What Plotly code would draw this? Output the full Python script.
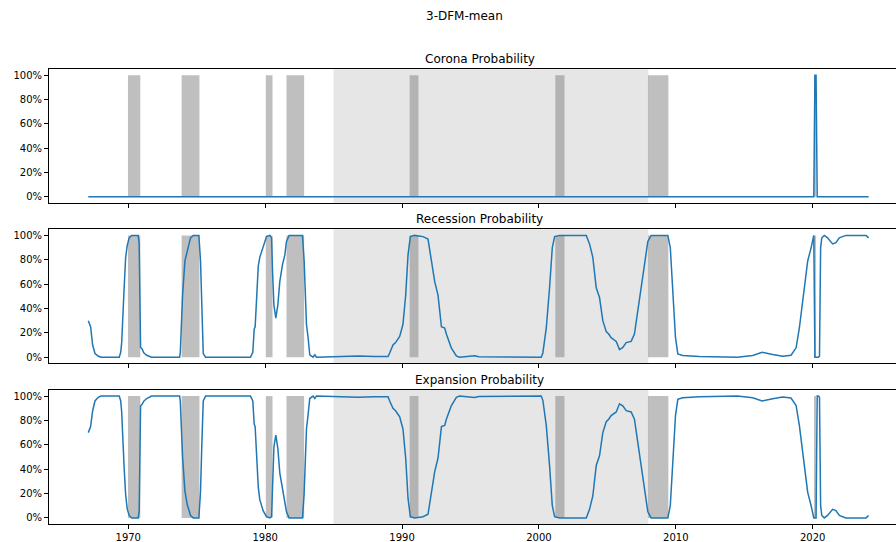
import plotly.graph_objects as go

# ---------------- data (decimal years) ----------------
dates = [
    1967.08, 1967.25, 1967.40, 1967.57, 1967.80, 1968.00, 1969.34, 1969.45, 1969.52, 1969.64,
    1969.70, 1969.81, 1969.93, 1970.07, 1970.25, 1970.73, 1970.80, 1970.90, 1971.00, 1971.15,
    1971.35, 1971.70, 1973.75, 1973.80, 1973.97, 1974.14, 1974.31, 1974.55, 1974.75, 1975.16,
    1975.28, 1975.38, 1975.48, 1975.65, 1978.93, 1979.10, 1979.20, 1979.27, 1979.37, 1979.50,
    1979.61, 1979.85, 1980.10, 1980.34, 1980.47, 1980.54, 1980.64, 1980.78, 1980.93, 1981.07,
    1981.27, 1981.44, 1981.56, 1981.75, 1982.73, 1982.85, 1983.02, 1983.14, 1983.26, 1983.50,
    1983.63, 1983.75, 1985.00, 1986.80, 1988.00, 1988.98, 1989.10, 1989.34, 1989.53, 1989.83,
    1990.07, 1990.27, 1990.44, 1990.61, 1990.92, 1991.53, 1991.90, 1992.15, 1992.39, 1992.63,
    1992.88, 1993.12, 1993.24, 1993.60, 1993.97, 1994.20, 1995.30, 1995.60, 2000.17, 2000.29,
    2000.54, 2000.78, 2000.98, 2001.15, 2001.51, 2003.46, 2003.70, 2003.94, 2004.19, 2004.43,
    2004.67, 2004.92, 2005.10, 2005.28, 2005.65, 2005.89, 2006.13, 2006.38, 2006.74, 2006.98,
    2007.22, 2007.47, 2007.71, 2007.96, 2008.20, 2009.42, 2009.60, 2009.78, 2009.98, 2010.15,
    2010.50, 2011.73, 2014.50, 2015.62, 2016.31, 2017.08, 2017.81, 2018.42, 2018.79, 2019.03,
    2019.32, 2019.64, 2019.89, 2020.00, 2020.083, 2020.167, 2020.25, 2020.333, 2020.417, 2020.50,
    2020.583, 2020.667, 2020.85, 2021.09, 2021.46, 2021.70, 2021.95, 2022.43, 2023.90, 2024.09,
]

corona = [0.0] * 135 + [1.0, 1.0] + [0.0] * 13

recession = [
    0.30, 0.25, 0.10, 0.03, 0.01, 0.00, 0.00, 0.04, 0.12, 0.54,
    0.57, 0.82, 0.92, 0.98, 1.00, 1.00, 0.93, 0.08, 0.07, 0.035,
    0.016, 0.00, 0.00, 0.035, 0.51, 0.79, 0.88, 0.98, 1.00, 1.00,
    0.79, 0.38, 0.03, 0.00, 0.00, 0.04, 0.23, 0.25, 0.51, 0.75,
    0.82, 0.91, 0.99, 1.00, 0.98, 0.71, 0.43, 0.32, 0.43, 0.62,
    0.76, 0.84, 0.95, 1.00, 1.00, 0.79, 0.27, 0.16, 0.02, 0.00,
    0.02, 0.00, 0.005, 0.01, 0.005, 0.005, 0.035, 0.10, 0.12, 0.17,
    0.27, 0.51, 0.84, 0.99, 1.00, 0.99, 0.97, 0.79, 0.62, 0.51,
    0.25, 0.24, 0.19, 0.077, 0.01, 0.00, 0.012, 0.003, 0.00, 0.035,
    0.24, 0.57, 0.90, 0.99, 1.00, 1.00, 0.93, 0.82, 0.57, 0.49,
    0.30, 0.21, 0.19, 0.16, 0.13, 0.063, 0.08, 0.12, 0.13, 0.19,
    0.38, 0.54, 0.73, 0.95, 1.00, 1.00, 0.90, 0.51, 0.16, 0.027,
    0.014, 0.005, 0.00, 0.014, 0.04, 0.022, 0.008, 0.016, 0.077, 0.24,
    0.51, 0.79, 0.90, 0.97, 1.00, 0.00, 0.00, 0.00, 0.00, 0.01,
    0.90, 0.98, 1.00, 0.98, 0.93, 0.94, 0.98, 1.00, 1.00, 0.98,
]

expansion = [
    0.70, 0.75, 0.88, 0.96, 0.99, 1.00, 1.00, 0.96, 0.87, 0.45,
    0.41, 0.19, 0.07, 0.02, 0.00, 0.00, 0.06, 0.92, 0.93, 0.96,
    0.98, 1.00, 1.00, 0.96, 0.50, 0.22, 0.11, 0.02, 0.00, 0.00,
    0.22, 0.62, 0.96, 1.00, 1.00, 0.96, 0.77, 0.75, 0.49, 0.25,
    0.15, 0.06, 0.01, 0.00, 0.01, 0.30, 0.58, 0.68, 0.57, 0.37,
    0.24, 0.14, 0.05, 0.00, 0.00, 0.20, 0.73, 0.85, 0.98, 1.00,
    0.98, 1.00, 0.995, 0.99, 0.995, 0.995, 0.96, 0.90, 0.88, 0.83,
    0.73, 0.49, 0.16, 0.01, 0.00, 0.01, 0.03, 0.21, 0.38, 0.49,
    0.75, 0.76, 0.81, 0.92, 0.99, 1.00, 0.988, 0.997, 1.00, 0.965,
    0.76, 0.43, 0.10, 0.01, 0.00, 0.00, 0.07, 0.18, 0.43, 0.51,
    0.70, 0.79, 0.81, 0.84, 0.87, 0.937, 0.92, 0.88, 0.87, 0.81,
    0.62, 0.46, 0.27, 0.05, 0.00, 0.00, 0.10, 0.49, 0.84, 0.973,
    0.986, 0.995, 1.00, 0.986, 0.96, 0.978, 0.992, 0.984, 0.923, 0.76,
    0.49, 0.21, 0.10, 0.03, 0.00, 0.00, 0.00, 1.00, 1.00, 0.99,
    0.10, 0.02, 0.00, 0.02, 0.07, 0.06, 0.02, 0.00, 0.00, 0.02,
]

# NBER recession periods (start, end) and the 1985-2008 band
recessions = [(1969.98, 1970.88), (1973.90, 1975.20), (1980.05, 1980.54),
              (1981.56, 1982.85), (1990.56, 1991.20), (2001.20, 2001.87),
              (2007.97, 2009.46), (2020.10, 2020.25)]
moderation = (1985.0, 2008.0)

titles = ["Corona Probability", "Recession Probability", "Expansion Probability"]
series = [corona, recession, expansion]
suptitle = "3-DFM-mean"
year_ticks = [1970, 1980, 1990, 2000, 2010, 2020]
pct_ticks = [0, 0.2, 0.4, 0.6, 0.8, 1.0]

# ---------------- layout geometry ----------------
W, H = 896, 542
L = 49
panels_px = [(69.3, 202.7), (229.3, 363.3), (390.0, 524.0)]
title_px = [59.3, 219.3, 380.0]
x_range = [1964.21, 2026.09]
FONT = "DejaVu Sans"

fig = go.Figure()
layout = dict(
    width=W, height=H,
    margin=dict(l=L, r=0, t=0, b=0, pad=0),
    paper_bgcolor="white", plot_bgcolor="white",
    showlegend=False,
    font=dict(family=FONT, color="black", size=10),
)

shapes = []
annotations = []
for i, (vals, (top, bot)) in enumerate(zip(series, panels_px)):
    n = i + 1
    xa = "x" if n == 1 else f"x{n}"
    ya = "y" if n == 1 else f"y{n}"
    fig.add_trace(go.Scatter(x=dates, y=vals, mode="lines",
                             line=dict(color="#1f77b4", width=1.5),
                             xaxis=xa, yaxis=ya, hoverinfo="skip"))
    layout["xaxis" if n == 1 else f"xaxis{n}"] = dict(
        domain=[0, 1], anchor=ya, range=x_range,
        tickmode="array", tickvals=year_ticks, showticklabels=(n == 3),
        ticks="outside", ticklen=4, tickwidth=1, tickcolor="black",
        showline=True, linecolor="black", linewidth=1, mirror=True,
        showgrid=False, zeroline=False, automargin=False,
        tickfont=dict(family=FONT, size=10, color="black"),
    )
    layout["yaxis" if n == 1 else f"yaxis{n}"] = dict(
        domain=[1 - bot / H, 1 - top / H], anchor=xa, range=[-0.05, 1.05],
        tickmode="array", tickvals=pct_ticks, tickformat=".0%",
        ticks="outside", ticklen=4, tickwidth=1, tickcolor="black",
        showline=True, linecolor="black", linewidth=1, mirror=False,
        showgrid=False, zeroline=False, automargin=False,
        tickfont=dict(family=FONT, size=10, color="black"),
    )
    shapes.append(dict(type="rect", xref=xa, yref=f"{ya} domain",
                       x0=moderation[0], x1=moderation[1], y0=0, y1=1,
                       fillcolor="rgba(128,128,128,0.2)", line=dict(width=0),
                       layer="below"))
    for (s, e) in recessions:
        shapes.append(dict(type="rect", xref=xa, yref=ya,
                           x0=s, x1=e, y0=0, y1=1,
                           fillcolor="rgba(128,128,128,0.5)", line=dict(width=0),
                           layer="below"))
    annotations.append(dict(text=titles[i], xref="paper", yref="paper",
                            x=(479.5 - L) / (W - L), y=1 - title_px[i] / H,
                            xanchor="center", yanchor="middle", showarrow=False,
                            font=dict(family=FONT, size=12, color="black")))

annotations.append(dict(text=suptitle, xref="paper", yref="paper",
                        x=(464 - L) / (W - L), y=1 - 15.7 / H,
                        xanchor="center", yanchor="middle", showarrow=False,
                        font=dict(family=FONT, size=12, color="black")))

layout["shapes"] = shapes
layout["annotations"] = annotations
fig.update_layout(**layout)
fig.write_html("out.html")
